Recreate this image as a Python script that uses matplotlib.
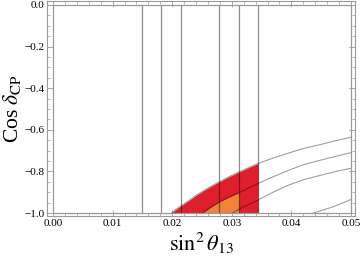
import matplotlib
matplotlib.use("Agg")
import matplotlib.pyplot as plt
from matplotlib.ticker import AutoMinorLocator
from matplotlib.patches import Rectangle

plt.rcParams['font.family'] = 'Liberation Serif'
plt.rcParams['mathtext.fontset'] = 'stix'

# vertical lines (sin^2 theta13 bounds)
vline_x = [0.0149, 0.0181, 0.0215, 0.0279, 0.0312, 0.0344]

# contour curves
c1_x = [0.0199, 0.0205, 0.0215, 0.0228, 0.0240, 0.0260, 0.0279, 0.0295, 0.0312,
        0.0328, 0.0344, 0.0370, 0.0395, 0.0420, 0.0450, 0.0475, 0.0500]
c1_y = [-1.0, -0.985, -0.965, -0.940, -0.915, -0.880, -0.850, -0.826, -0.803,
        -0.782, -0.762, -0.735, -0.712, -0.690, -0.670, -0.652, -0.636]
c2_x = [0.0251, 0.0258, 0.0265, 0.0279, 0.0295, 0.0312, 0.0328, 0.0344, 0.0370,
        0.0395, 0.0420, 0.0450, 0.0475, 0.0500]
c2_y = [-1.0, -0.986, -0.972, -0.947, -0.924, -0.903, -0.880, -0.858, -0.825,
        -0.795, -0.768, -0.745, -0.727, -0.710]
c3_x = [0.0301, 0.0310, 0.0320, 0.0332, 0.0344, 0.0370, 0.0395, 0.0420, 0.0450,
        0.0475, 0.0500]
c3_y = [-1.0, -0.985, -0.970, -0.954, -0.938, -0.899, -0.866, -0.840, -0.818,
        -0.800, -0.785]
c4_x = [0.0437, 0.0455, 0.0470, 0.0485, 0.0500]
c4_y = [-1.0, -0.984, -0.970, -0.953, -0.935]

red_xmax = 0.0344
orange_xmax = 0.0312

xticks = [0.00, 0.01, 0.02, 0.03, 0.04, 0.05]
xticklabels = ['0.00', '0.01', '0.02', '0.03', '0.04', '0.05']
yticks = [0.0, -0.2, -0.4, -0.6, -0.8, -1.0]
yticklabels = ['0.0', '\u22120.2', '\u22120.4', '\u22120.6', '\u22120.8', '\u22121.0']

fig = plt.figure(figsize=(3.6, 2.59), dpi=100)
ax = fig.add_axes([47/360, 1-216/259, 308/360, 215/259])

# filled regions
rx = [x for x in c1_x if x <= red_xmax]
ry = [y for x, y in zip(c1_x, c1_y) if x <= red_xmax]
ax.fill_between(rx, ry, -1.0, color='#e01f2d', lw=0, zorder=1)
ox = [x for x in c2_x if x <= orange_xmax]
oy = [y for x, y in zip(c2_x, c2_y) if x <= orange_xmax]
ax.fill_between(ox, oy, -1.0, color='#ef8434', lw=0, zorder=2)

for cx, cy in [(c1_x, c1_y), (c2_x, c2_y), (c3_x, c3_y), (c4_x, c4_y)]:
    ax.plot(cx, cy, color='black', alpha=0.38, lw=0.8, zorder=3)

for x in vline_x:
    ax.plot([x, x], [-1.0, 0.0], color='black', alpha=0.45, lw=0.9, zorder=3)

# inner plot range box
ax.add_patch(Rectangle((0, -1), 0.05, 1, fill=False, ec='#9a9a9a', lw=0.9, zorder=4))

ax.set_xlim(-0.001007, 0.05067)
ax.set_ylim(-1.0144, 0.0192)

ax.set_xticks(xticks)
ax.set_xticklabels(xticklabels)
ax.set_yticks(yticks)
ax.set_yticklabels(yticklabels)
ax.xaxis.set_minor_locator(AutoMinorLocator(5))
ax.yaxis.set_minor_locator(AutoMinorLocator(4))
ax.tick_params(which='both', direction='in', top=True, right=True, color='#999999', labelsize=8, pad=2)
ax.tick_params(which='major', length=4, width=0.6)
ax.tick_params(which='minor', length=2, width=0.5)
for s in ax.spines.values():
    s.set_color('#999999')
    s.set_linewidth(0.8)

ax.set_xlabel(r'$\sin^2\theta_{13}$', fontsize=16, labelpad=2)
ax.set_ylabel(r'Cos $\delta_{\rm CP}$', fontsize=15.5, labelpad=1)

fig.savefig('out.png', dpi=100)
